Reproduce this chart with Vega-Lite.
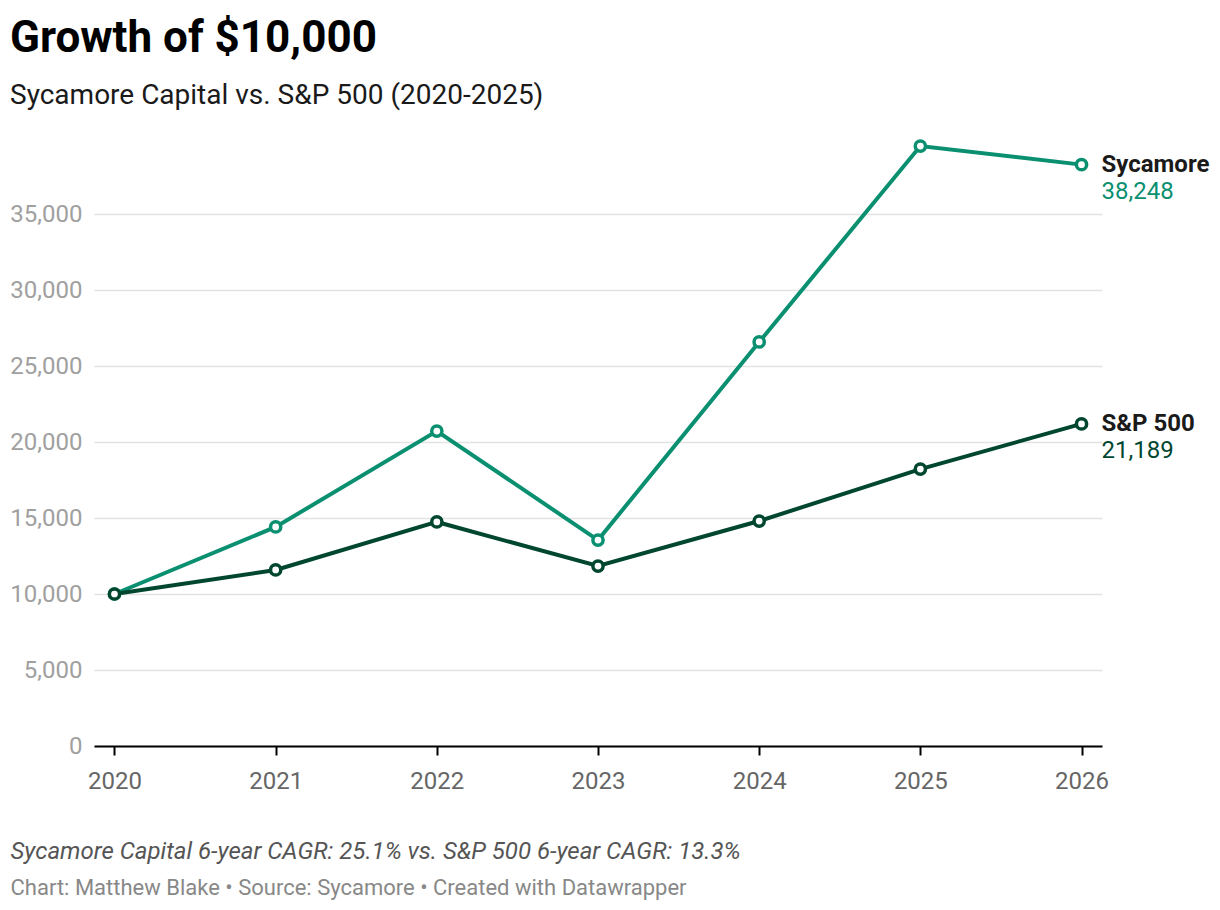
{
  "$schema": "https://vega.github.io/schema/vega-lite/v6.json",
  "width": 1008,
  "height": 608,
  "autosize": {"type": "none"},
  "padding": {"left": 94, "top": 138, "right": 118, "bottom": 164},
  "background": "#ffffff",
  "config": {
    "font": "Roboto",
    "view": {"stroke": null}
  },
  "title": {
    "text": "Growth of $10,000",
    "subtitle": "Sycamore Capital vs. S&P 500 (2020-2025)",
    "anchor": "start",
    "frame": "group",
    "dx": -84,
    "offset": 24,
    "font": "Roboto",
    "fontSize": 44,
    "fontWeight": "bold",
    "color": "#000000",
    "subtitleFont": "Roboto",
    "subtitleFontSize": 28,
    "subtitleColor": "#1a1a1a",
    "subtitlePadding": 21
  },
  "data": {
    "values": [
      {"year": "2020", "series": "Sycamore", "value": 10000},
      {"year": "2021", "series": "Sycamore", "value": 14410},
      {"year": "2022", "series": "Sycamore", "value": 20720},
      {"year": "2023", "series": "Sycamore", "value": 13550},
      {"year": "2024", "series": "Sycamore", "value": 26580},
      {"year": "2025", "series": "Sycamore", "value": 39470},
      {"year": "2026", "series": "Sycamore", "value": 38248},
      {"year": "2020", "series": "S&P 500", "value": 10000},
      {"year": "2021", "series": "S&P 500", "value": 11580},
      {"year": "2022", "series": "S&P 500", "value": 14740},
      {"year": "2023", "series": "S&P 500", "value": 11840},
      {"year": "2024", "series": "S&P 500", "value": 14800},
      {"year": "2025", "series": "S&P 500", "value": 18220},
      {"year": "2026", "series": "S&P 500", "value": 21189}
    ]
  },
  "encoding": {
    "x": {
      "field": "year",
      "type": "ordinal",
      "scale": {"type": "point", "padding": 0.127},
      "axis": {
        "title": "Sycamore Capital 6-year CAGR: 25.1% vs. S&P 500 6-year CAGR: 13.3%",
        "titleFont": "Roboto",
        "titleFontSize": 24,
        "titleFontStyle": "italic",
        "titleFontWeight": "normal",
        "titleColor": "#555555",
        "titleAnchor": "start",
        "titleAlign": "left",
        "titleBaseline": "middle",
        "titleX": -84,
        "titleY": 105,
        "labelAngle": 0,
        "labelFont": "Roboto",
        "labelFontSize": 24,
        "labelColor": "#666666",
        "labelPadding": 14,
        "domainColor": "#000000",
        "domainWidth": 2,
        "tickColor": "#000000",
        "tickWidth": 2,
        "tickSize": 9,
        "grid": false
      }
    },
    "y": {
      "field": "value",
      "type": "quantitative",
      "scale": {"domain": [0, 40000], "nice": false},
      "axis": {
        "values": [0, 5000, 10000, 15000, 20000, 25000, 30000, 35000],
        "format": ",.0f",
        "title": "Chart: Matthew Blake • Source: Sycamore • Created with Datawrapper",
        "titleFont": "Roboto",
        "titleFontSize": 22,
        "titleFontWeight": "normal",
        "titleColor": "#888888",
        "titleAngle": 0,
        "titleAlign": "left",
        "titleBaseline": "middle",
        "titleX": -84,
        "titleY": 749,
        "labelFont": "Roboto",
        "labelFontSize": 24,
        "labelColor": "#a0a0a0",
        "labelPadding": 12,
        "domain": false,
        "ticks": false,
        "grid": true,
        "gridColor": "#e3e3e3",
        "gridWidth": 1.5
      }
    }
  },
  "layer": [
    {
      "mark": {"type": "line", "strokeWidth": 4},
      "encoding": {
        "color": {
          "field": "series",
          "type": "nominal",
          "scale": {"domain": ["Sycamore", "S&P 500"], "range": ["#0a9070", "#01472f"]},
          "legend": null
        }
      }
    },
    {
      "mark": {"type": "point", "shape": "circle", "filled": false, "fill": "#ffffff", "fillOpacity": 1, "strokeWidth": 3.5, "size": 105, "opacity": 1},
      "encoding": {
        "stroke": {
          "field": "series",
          "type": "nominal",
          "scale": {"domain": ["Sycamore", "S&P 500"], "range": ["#0a9070", "#01472f"]},
          "legend": null
        }
      }
    },
    {
      "transform": [{"filter": "datum.year == '2026'"}],
      "mark": {"type": "text", "align": "left", "baseline": "middle", "dx": 20, "dy": 0, "fontSize": 24, "fontWeight": "bold", "font": "Roboto", "color": "#1a1a1a"},
      "encoding": {"text": {"field": "series", "type": "nominal"}}
    },
    {
      "transform": [{"filter": "datum.year == '2026'"}],
      "mark": {"type": "text", "align": "left", "baseline": "middle", "dx": 20, "dy": 27, "fontSize": 24, "font": "Roboto"},
      "encoding": {
        "text": {"field": "value", "type": "quantitative", "format": ",.0f"},
        "color": {
          "field": "series",
          "type": "nominal",
          "scale": {"domain": ["Sycamore", "S&P 500"], "range": ["#0a9070", "#01472f"]},
          "legend": null
        }
      }
    }
  ]
}
